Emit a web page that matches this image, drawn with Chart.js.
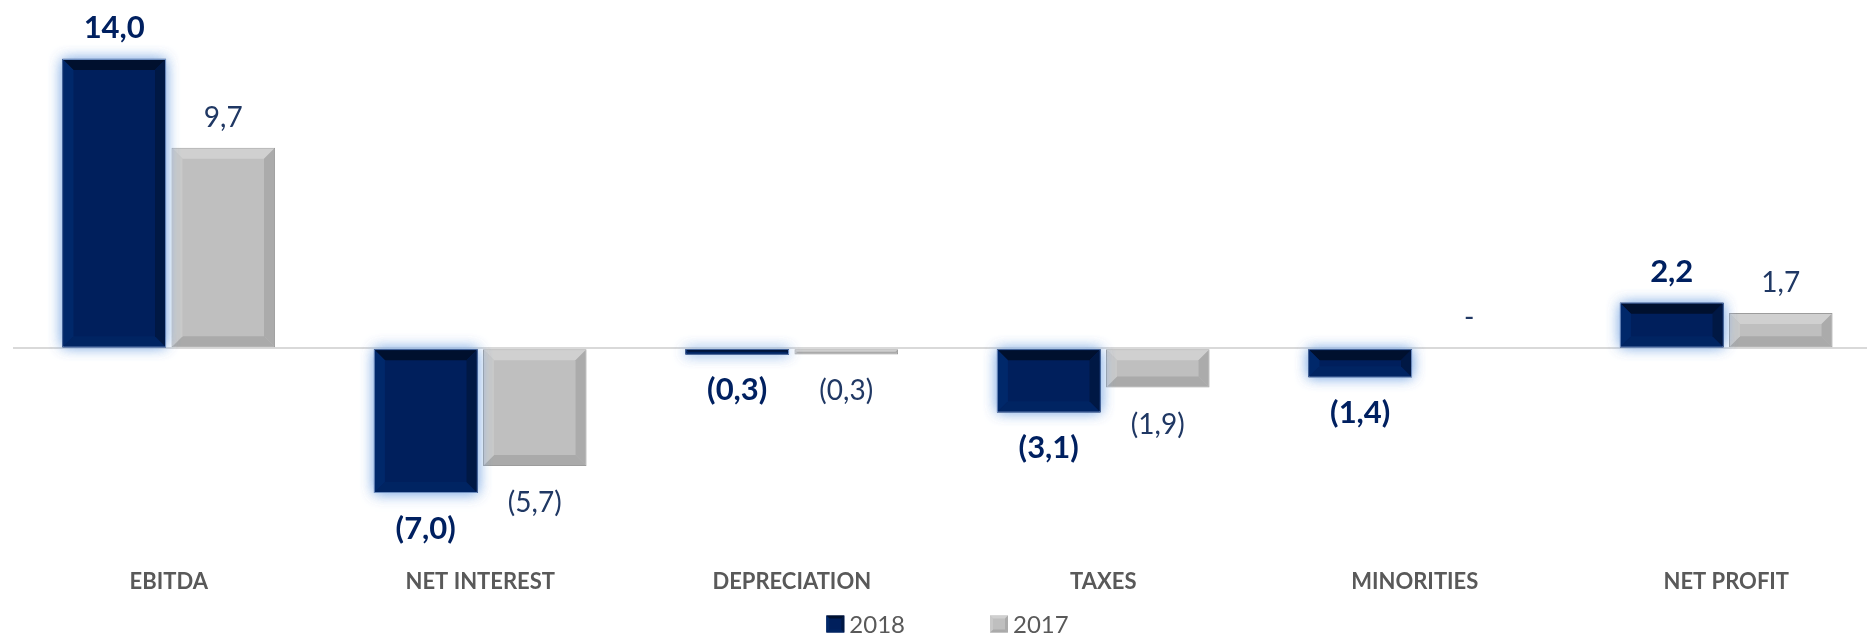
<!DOCTYPE html>
<html>
<head>
<meta charset="utf-8">
<script src="https://cdn.jsdelivr.net/npm/chart.js@4.4.0/dist/chart.umd.min.js"></script>
<style>
  html, body { margin: 0; padding: 0; background: #fff; overflow: hidden; }
  #wrap { position: relative; width: 1895px; height: 637px; }
</style>
</head>
<body>
<div id="wrap"><canvas id="pnlChart"></canvas></div>
<script>
const categories = ['EBITDA', 'NET INTEREST', 'DEPRECIATION', 'TAXES', 'MINORITIES', 'NET PROFIT'];
const seriesNames = ['2018', '2017'];
const values2018 = [14.0, -7.0, -0.3, -3.1, -1.4, 2.2];
const values2017 = [9.7, -5.7, -0.3, -1.9, 0, 1.7];

const FONT = 'Lato, "Open Sans", sans-serif';

// face + bevel shades for each series
const palettes = [
  { face: '#001f5c', top: '#00102e', left: '#00286a', right: '#001844', bottom: '#002462', edge: '#6f8fc0', glow: 'rgba(140,180,232,0.85)' },
  { face: '#bfbfbf', top: '#d0d0d0', left: '#c9c9c9', right: '#ababab', bottom: '#aaaaaa', edge: '#9c9c9c', glow: null }
];

function fmt(v) {
  if (v === 0) return '-';
  const s = Math.abs(v).toFixed(1).replace('.', ',');
  return v < 0 ? '(' + s + ')' : s;
}

function poly(ctx, pts, color) {
  ctx.beginPath();
  ctx.moveTo(pts[0][0], pts[0][1]);
  for (let k = 1; k < pts.length; k++) ctx.lineTo(pts[k][0], pts[k][1]);
  ctx.closePath();
  ctx.fillStyle = color;
  ctx.fill();
}

function drawBevel(ctx, l, t, r, b, p, size) {
  const d = Math.min(size, (b - t) / 2, (r - l) / 2);
  poly(ctx, [[l, t], [r, t], [r - d, t + d], [l + d, t + d]], p.top);
  poly(ctx, [[l, b], [r, b], [r - d, b - d], [l + d, b - d]], p.bottom);
  poly(ctx, [[l, t], [l + d, t + d], [l + d, b - d], [l, b]], p.left);
  poly(ctx, [[r, t], [r - d, t + d], [r - d, b - d], [r, b]], p.right);
}

function barBox(bar) {
  const { x, y, base, width } = bar.getProps(['x', 'y', 'base', 'width'], true);
  return { l: x - width / 2, r: x + width / 2, t: Math.min(y, base), b: Math.max(y, base) };
}

// soft glow behind the 2018 bars, bevel on top of every bar
const bevelPlugin = {
  id: 'bevelBars',
  beforeDatasetDraw(chart, args) {
    const p = palettes[args.index];
    if (!p.glow) return;
    const ctx = chart.ctx;
    ctx.save();
    ctx.shadowColor = p.glow;
    ctx.shadowBlur = 13;
    ctx.fillStyle = p.face;
    args.meta.data.forEach(bar => {
      const r = barBox(bar);
      if (r.b - r.t < 0.5) return;
      ctx.fillRect(r.l, r.t, r.r - r.l, r.b - r.t);
      ctx.fillRect(r.l, r.t, r.r - r.l, r.b - r.t);
    });
    ctx.restore();
  },
  afterDatasetDraw(chart, args) {
    const ctx = chart.ctx;
    const p = palettes[args.index];
    args.meta.data.forEach(bar => {
      const r = barBox(bar);
      if (r.b - r.t < 0.5) return;
      drawBevel(ctx, r.l + 1, r.t + 1, r.r - 1, r.b - 1, p, 10);
    });
  }
};

const valueLabels = {
  id: 'valueLabels',
  afterDatasetsDraw(chart) {
    const ctx = chart.ctx;
    ctx.save();
    ctx.textAlign = 'center';
    ctx.textBaseline = 'alphabetic';
    chart.data.datasets.forEach((ds, i) => {
      const meta = chart.getDatasetMeta(i);
      ctx.font = (i === 0 ? 'bold 31px ' : '28px ') + FONT;
      ctx.fillStyle = i === 0 ? '#002060' : '#203864';
      meta.data.forEach((bar, j) => {
        const v = ds.data[j];
        const r = barBox(bar);
        const ty = v >= 0 ? r.t - 21 : r.b + 46;
        ctx.fillText(fmt(v), bar.x, ty);
      });
    });
    ctx.restore();
  }
};

const bottomLegend = {
  id: 'bottomLegend',
  afterDraw(chart) {
    const ctx = chart.ctx;
    const area = chart.chartArea;
    ctx.save();
    ctx.font = '24px ' + FONT;
    ctx.textBaseline = 'middle';
    ctx.textAlign = 'left';
    const box = 18, gap = 5, itemGap = 85;
    const widths = seriesNames.map(n => box + gap + ctx.measureText(n).width);
    const total = widths.reduce((a, b) => a + b, 0) + itemGap * (seriesNames.length - 1);
    let x = (area.left + area.right) / 2 - total / 2;
    const cy = chart.height - 13;
    seriesNames.forEach((name, i) => {
      const p = palettes[i];
      ctx.fillStyle = p.face;
      ctx.fillRect(x, cy - 8.5, box, 17);
      drawBevel(ctx, x, cy - 8.5, x + box, cy + 8.5, p, 3);
      ctx.fillStyle = '#595959';
      ctx.fillText(name, x + box + gap, cy + 1);
      x += widths[i] + itemGap;
    });
    ctx.restore();
  }
};

new Chart(document.getElementById('pnlChart'), {
  type: 'bar',
  data: {
    labels: categories,
    datasets: [
      { label: seriesNames[0], data: values2018, backgroundColor: palettes[0].face, borderColor: palettes[0].edge, borderWidth: 1, borderSkipped: false },
      { label: seriesNames[1], data: values2017, backgroundColor: palettes[1].face, borderColor: palettes[1].edge, borderWidth: 1, borderSkipped: false }
    ]
  },
  options: {
    responsive: true,
    maintainAspectRatio: false,
    animation: false,
    categoryPercentage: 0.7,
    barPercentage: 0.95,
    layout: { padding: { left: 13, right: 13, top: 0, bottom: 26 } },
    plugins: {
      legend: { display: false },
      tooltip: { enabled: false }
    },
    scales: {
      x: {
        grid: { display: false },
        border: { display: false },
        ticks: {
          color: '#595959',
          padding: 16,
          font: { family: FONT, size: 22, weight: 'bold' }
        }
      },
      y: {
        min: -9.5,
        max: 16.85,
        ticks: { display: false, stepSize: 1 },
        grid: {
          drawTicks: false,
          lineWidth: 2,
          color: c => c.tick && c.tick.value === 0 ? '#d9d9d9' : 'rgba(0,0,0,0)'
        },
        border: { display: false }
      }
    }
  },
  plugins: [bevelPlugin, valueLabels, bottomLegend]
});
</script>
</body>
</html>
